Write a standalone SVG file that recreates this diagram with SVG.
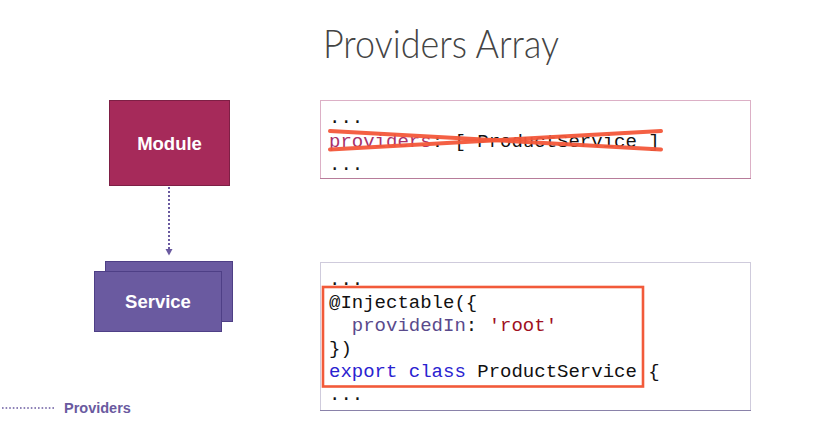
<svg xmlns="http://www.w3.org/2000/svg" width="828" height="428" viewBox="0 0 828 428">
<style>
.code{font-family:"Liberation Mono","DejaVu Sans Mono",monospace;font-size:19px;fill:#111}
.lbl{font-family:"Liberation Sans",Arial,sans-serif;font-weight:bold;fill:#fff;text-anchor:middle}
.kw{fill:#2a22d0}
.prop{fill:#5a4a8c}
.str{fill:#a0101e}
.mag{fill:#a8306a}
</style>
<defs>
<marker id="ah" markerWidth="7" markerHeight="8" refX="6" refY="4" orient="auto" markerUnits="userSpaceOnUse" viewBox="0 0 7 8">
<polygon points="0,0.5 6.5,4 0,7.5" fill="#6a5aa0"/>
</marker>
</defs>
<rect width="828" height="428" fill="#fff"/>
<text x="323" y="58" font-family="Lato,'Liberation Sans',sans-serif" font-weight="300" font-size="40" fill="#444" textLength="236" lengthAdjust="spacingAndGlyphs">Providers Array</text>

<g id="connectors">
<line x1="169" y1="187" x2="169" y2="255" stroke="#6a5aa0" stroke-width="2" stroke-dasharray="2 2" marker-end="url(#ah)"/>
</g>

<g id="module">
<rect x="109.5" y="100.5" width="120" height="85" fill="#a62a5a" stroke="#7e1f45" stroke-width="1"/>
<text class="lbl" x="169.5" y="149.5" font-size="18.5">Module</text>
</g>

<g id="service">
<rect x="105.5" y="261.5" width="127" height="60" fill="#6a5aa0" stroke="#4e3f86" stroke-width="1"/>
<rect x="94.5" y="271.5" width="127" height="60" fill="#6a5aa0" stroke="#4e3f86" stroke-width="1"/>
<text class="lbl" x="158" y="307.5" font-size="18.5">Service</text>
</g>

<g id="code-providers">
<rect x="320.5" y="100.5" width="430" height="78" fill="#fff" stroke="#dcb0c6" stroke-width="1"/>
<line x1="320" y1="178.5" x2="751" y2="178.5" stroke="#b77c9a" stroke-width="1.2"/>
<text class="code" x="329" y="123">...</text>
<text class="code" x="329" y="146.5"><tspan class="mag">providers</tspan>: [ ProductService ]</text>
<text class="code" x="329" y="170">...</text>
<line x1="330" y1="131" x2="661" y2="149.5" stroke="#f4583a" stroke-width="4" stroke-linecap="round" opacity="0.95"/>
<line x1="330" y1="149.5" x2="661" y2="131" stroke="#f4583a" stroke-width="4" stroke-linecap="round" opacity="0.95"/>
</g>

<g id="code-injectable">
<rect x="320.5" y="262.5" width="430" height="148" fill="#fff" stroke="#cfcbdc" stroke-width="1"/>
<line x1="320" y1="410.5" x2="751" y2="410.5" stroke="#8a82aa" stroke-width="1.2"/>
<text class="code" x="329" y="285">...</text>
<text class="code" x="329" y="308">@Injectable({</text>
<text class="code" x="351.8" y="331"><tspan class="prop">providedIn</tspan>: <tspan class="str">'root'</tspan></text>
<text class="code" x="329" y="354">})</text>
<text class="code" x="329" y="377"><tspan class="kw">export class</tspan> ProductService {</text>
<text class="code" x="329" y="400">...</text>
<rect x="323" y="287" width="320" height="99.5" fill="none" stroke="#f25a3a" stroke-width="2.6"/>
</g>

<g id="legend">
<line x1="2" y1="408" x2="56" y2="408" stroke="#6a5aa0" stroke-width="1.6" stroke-dasharray="1.6 2"/>
<text x="64" y="412.5" font-family="'Liberation Sans',Arial,sans-serif" font-weight="bold" font-size="14.5" fill="#6a5aa0">Providers</text>
</g>
</svg>
